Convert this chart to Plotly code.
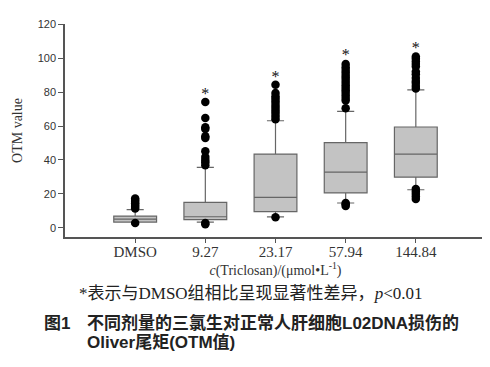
import plotly.graph_objects as go

categories = ["DMSO", "9.27", "23.17", "57.94", "144.84"]
q1 = [3.5, 4.9, 9.6, 20.6, 29.9]
median = [5.2, 6.6, 18.0, 32.9, 43.5]
q3 = [7.0, 15.1, 43.5, 50.2, 59.4]
lower_fence = [3.4, 3.5, 6.5, 14.7, 22.5]
upper_fence = [10.8, 35.6, 63.1, 68.6, 81.2]
outliers = [
    [11.5, 12.5, 13.5, 14.5, 15.5, 16.5, 17.3, 3.0],
    [36.9, 38.6, 40.0, 41.7, 45.1, 52.9, 53.9, 58.2, 59.2, 64.7, 74.1, 2.9, 2.2],
    [64.0, 65.5, 67.0, 68.5, 70.0, 71.5, 73.0, 74.5, 76.0, 77.5, 79.4, 84.3, 6.3],
    [70.5, 75.0, 76.5, 78.0, 79.5, 81.0, 82.5, 84.0, 85.5, 87.0, 88.5, 90.0,
     91.5, 93.0, 94.5, 96.5, 13.0, 14.0, 14.7],
    [82.0, 83.5, 85.3, 86.5, 88.2, 90.5, 92.1, 95.0, 96.5, 98.0, 99.5, 100.9,
     17.0, 18.5, 20.0, 21.5, 23.0],
]
star_values = [None, 78.4, 88.2, 101.4, 105.5]
y_ticks = [0, 20, 40, 60, 80, 100, 120]

fig = go.Figure()
for i, cat in enumerate(categories):
    pos = i + 1
    fig.add_trace(go.Box(
        x=[pos], q1=[q1[i]], median=[median[i]], q3=[q3[i]],
        lowerfence=[lower_fence[i]], upperfence=[upper_fence[i]],
        width=0.61, whiskerwidth=0.4, boxpoints=False,
        fillcolor="#c3c3c3", line=dict(color="#666666", width=1.2),
        showlegend=False, hoverinfo="skip",
    ))
    fig.add_trace(go.Scatter(
        x=[pos] * len(outliers[i]), y=outliers[i], mode="markers",
        marker=dict(color="black", size=8.5), showlegend=False, cliponaxis=False,
    ))
    if star_values[i] is not None:
        fig.add_trace(go.Scatter(
            x=[pos], y=[star_values[i]], mode="text", text=["*"],
            textposition="middle center",
            textfont=dict(family="Liberation Serif", size=16, color="#111"),
            showlegend=False, cliponaxis=False,
        ))

# page body has an 8px default margin: work in page pixels, offset by 8
OFF = 8
W, H = 490 - OFF, 367 - OFF
L, T = 65 - OFF, 24 - OFF
plot_right, plot_bottom = 486 - OFF, 237 - OFF
R, B = W - plot_right, H - plot_bottom
ph = plot_bottom - T
pw = plot_right - L

def py(p):
    return (plot_bottom - (p - OFF)) / ph

def px(p):
    return ((p - OFF) - L) / pw

cap_font = dict(family="Liberation Sans, Noto Sans CJK SC", size=17, color="#222")

fig.update_layout(
    width=W, height=H,
    margin=dict(l=L, r=R, t=T, b=B),
    paper_bgcolor="white", plot_bgcolor="white",
    xaxis=dict(
        range=[0, 6], tickmode="array", tickvals=[1, 2, 3, 4, 5], ticktext=categories,
        showline=True, linecolor="#555", linewidth=1.5,
        ticks="outside", ticklen=4, tickcolor="#555", showgrid=False, zeroline=False,
        minor=dict(tickmode="array", tickvals=[6], ticks="outside", ticklen=4,
                   tickcolor="#555", tickwidth=1),
        ticklabelstandoff=-4,
        tickfont=dict(family="Liberation Serif", size=15, color="#333"),
        title=dict(text="<i>c</i>(Triclosan)/(μmol•L<sup>-1</sup>)",
                   font=dict(family="Liberation Serif", size=14, color="#333"),
                   standoff=0),
    ),
    yaxis=dict(
        range=[-5.3, 120], tickvals=y_ticks,
        showline=True, linecolor="#555", linewidth=1.5,
        ticks="outside", ticklen=5, tickcolor="#555", showgrid=False, zeroline=False,
        tickfont=dict(family="Liberation Sans", size=11, color="#333"),
        title=dict(text="OTM value",
                   font=dict(family="Liberation Serif", size=14, color="#333"),
                   standoff=12),
    ),
    annotations=[
        dict(text="*表示与DMSO组相比呈现显著性差异，<i>p</i><0.01",
             xref="paper", yref="paper", x=px(250), y=py(293),
             xanchor="center", yanchor="middle", showarrow=False,
             font=dict(family="Liberation Serif, Noto Sans CJK SC", size=17, color="#222")),
        dict(text="<b>图1</b>",
             xref="paper", yref="paper", x=px(42), y=py(323),
             xanchor="left", yanchor="middle", showarrow=False, font=cap_font),
        dict(text="<b>不同剂量的三氯生对正常人肝细胞L02DNA损伤的</b>",
             xref="paper", yref="paper", x=px(85), y=py(323),
             xanchor="left", yanchor="middle", showarrow=False, font=cap_font),
        dict(text="<b>Oliver尾矩(OTM值)</b>",
             xref="paper", yref="paper", x=px(85), y=py(342),
             xanchor="left", yanchor="middle", showarrow=False, font=cap_font),
    ],
)

fig.write_html("out.html")
